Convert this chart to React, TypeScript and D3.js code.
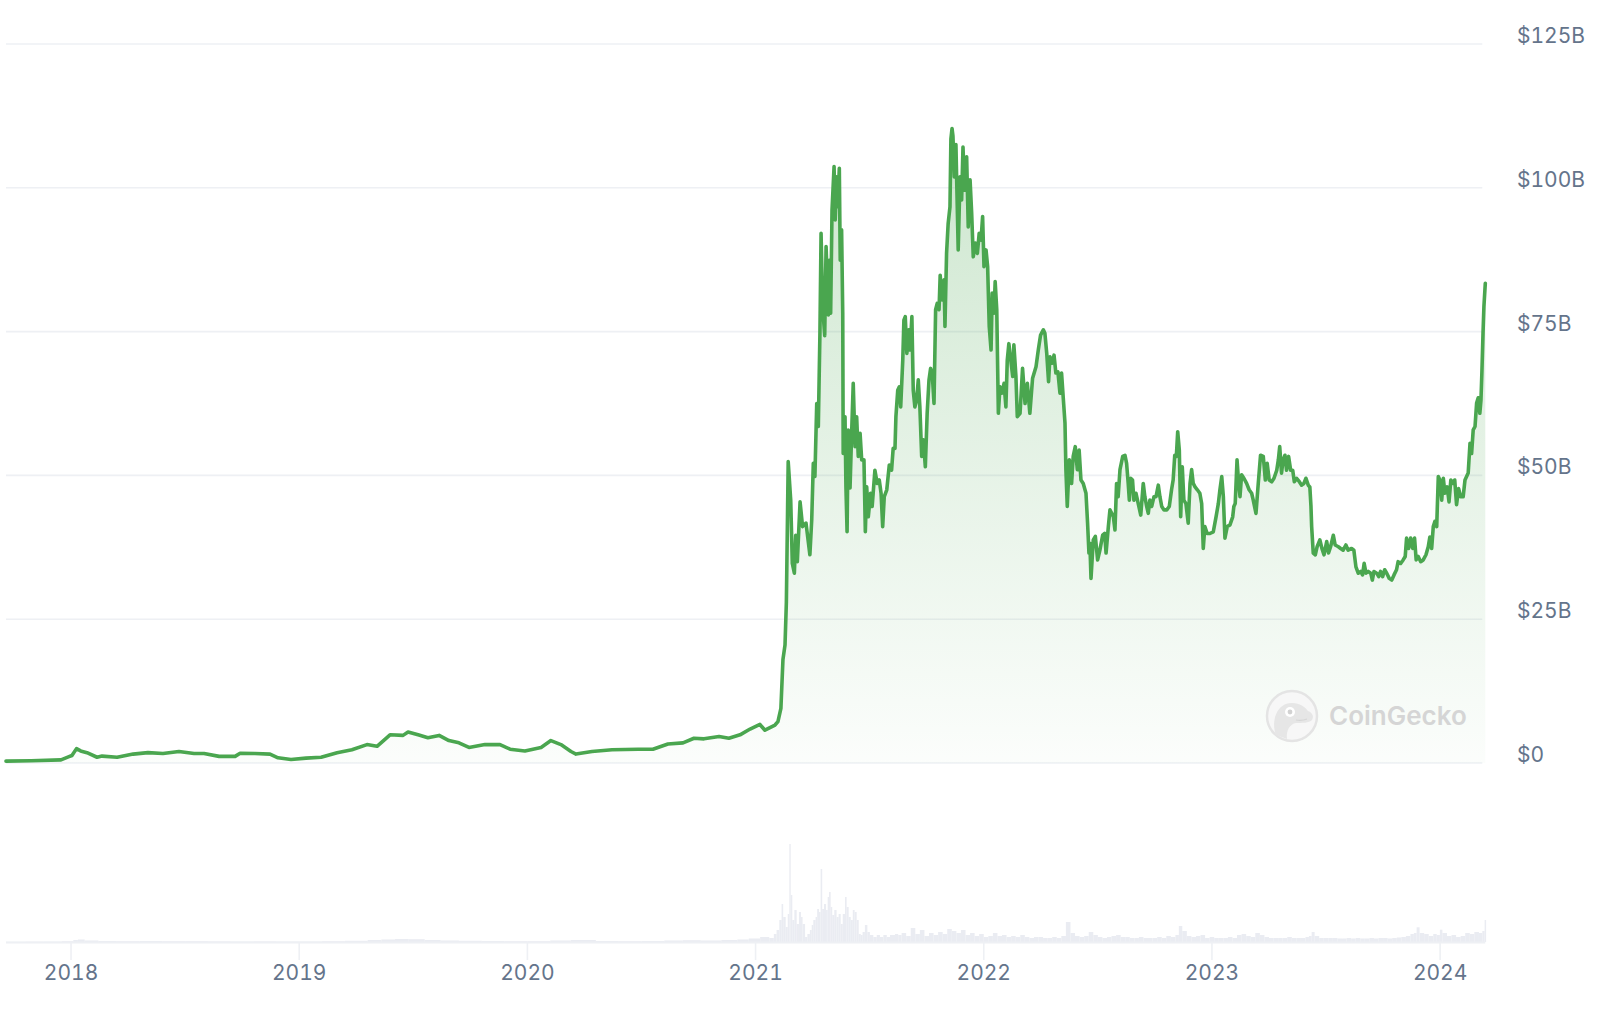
import React from "react";
import * as d3 from "d3";

// Market cap (decimal year, $B)
const priceDates: number[] = [
  2017.715, 2017.825, 2017.956, 2017.991, 2018.004, 2018.024, 2018.042, 2018.07, 2018.114, 2018.136,
  2018.202, 2018.272, 2018.337, 2018.403, 2018.473, 2018.539, 2018.583, 2018.649, 2018.719, 2018.741,
  2018.806, 2018.872, 2018.907, 2018.964, 2019.03, 2019.096, 2019.166, 2019.231, 2019.297, 2019.341,
  2019.398, 2019.455, 2019.477, 2019.521, 2019.564, 2019.613, 2019.656, 2019.7, 2019.744, 2019.814,
  2019.88, 2019.924, 2019.989, 2020.06, 2020.103, 2020.147, 2020.191, 2020.213, 2020.283, 2020.371,
  2020.485, 2020.55, 2020.616, 2020.682, 2020.73, 2020.774, 2020.84, 2020.883, 2020.932, 2020.976,
  2021.019, 2021.041, 2021.085, 2021.098, 2021.111, 2021.12, 2021.129, 2021.135,
  2021.143, 2021.154, 2021.161, 2021.17, 2021.176, 2021.183, 2021.195, 2021.206, 2021.221, 2021.238,
  2021.246, 2021.253, 2021.26, 2021.268, 2021.275, 2021.282, 2021.287, 2021.294, 2021.303, 2021.309,
  2021.319, 2021.323, 2021.329, 2021.335, 2021.344, 2021.349, 2021.355, 2021.36, 2021.367, 2021.371,
  2021.377, 2021.382, 2021.384, 2021.392, 2021.396, 2021.401, 2021.406, 2021.414, 2021.421, 2021.428,
  2021.436, 2021.443, 2021.45, 2021.458, 2021.465, 2021.475, 2021.481, 2021.487, 2021.494, 2021.504,
  2021.511, 2021.523, 2021.533, 2021.542, 2021.55, 2021.557, 2021.564, 2021.575, 2021.586, 2021.596,
  2021.603, 2021.611, 2021.615, 2021.623, 2021.63, 2021.636, 2021.645, 2021.65, 2021.656, 2021.663,
  2021.671, 2021.677, 2021.685, 2021.691, 2021.698, 2021.706, 2021.713, 2021.72, 2021.728, 2021.735,
  2021.744, 2021.752, 2021.76, 2021.767, 2021.774, 2021.782, 2021.789, 2021.796, 2021.804, 2021.809,
  2021.817, 2021.826, 2021.83, 2021.837, 2021.844, 2021.852, 2021.856, 2021.861, 2021.865, 2021.871,
  2021.878, 2021.888, 2021.896, 2021.903, 2021.909, 2021.916, 2021.925, 2021.932, 2021.94, 2021.947,
  2021.954, 2021.963, 2021.972, 2021.98, 2021.988, 2021.995, 2022.001, 2022.01, 2022.017, 2022.024,
  2022.032, 2022.037, 2022.045, 2022.05, 2022.057, 2022.064, 2022.071, 2022.08, 2022.089, 2022.097,
  2022.103, 2022.11, 2022.127, 2022.132, 2022.141, 2022.147, 2022.159, 2022.17, 2022.181, 2022.191,
  2022.202, 2022.214, 2022.229, 2022.239, 2022.249, 2022.261, 2022.268, 2022.276, 2022.284, 2022.29,
  2022.299, 2022.308, 2022.316, 2022.325, 2022.334, 2022.341, 2022.348, 2022.356, 2022.36, 2022.366,
  2022.375, 2022.385, 2022.392, 2022.401, 2022.41, 2022.418, 2022.426, 2022.436, 2022.448, 2022.455,
  2022.461, 2022.465, 2022.47, 2022.48, 2022.489, 2022.499, 2022.509, 2022.521, 2022.53, 2022.536,
  2022.546, 2022.553, 2022.561, 2022.568, 2022.575, 2022.582, 2022.589, 2022.597, 2022.609, 2022.619,
  2022.626, 2022.633, 2022.638, 2022.644, 2022.652, 2022.658, 2022.667, 2022.677, 2022.688, 2022.699,
  2022.706, 2022.714, 2022.721, 2022.728, 2022.736, 2022.746, 2022.755, 2022.765, 2022.772, 2022.78,
  2022.79, 2022.802, 2022.813, 2022.823, 2022.83, 2022.837, 2022.844, 2022.85, 2022.857, 2022.863,
  2022.87, 2022.877, 2022.886, 2022.896, 2022.904, 2022.911, 2022.918, 2022.926, 2022.936, 2022.947,
  2022.955, 2022.962, 2022.969, 2022.979, 2022.991, 2023.006, 2023.018, 2023.028, 2023.035, 2023.043,
  2023.05, 2023.057, 2023.067, 2023.079, 2023.091, 2023.096, 2023.102, 2023.11, 2023.115, 2023.123,
  2023.13, 2023.14, 2023.152, 2023.163, 2023.174, 2023.181, 2023.193, 2023.203, 2023.213, 2023.225,
  2023.234, 2023.242, 2023.251, 2023.262, 2023.272, 2023.284, 2023.291, 2023.297, 2023.305, 2023.312,
  2023.32, 2023.327, 2023.336, 2023.345, 2023.354, 2023.361, 2023.371, 2023.383, 2023.393, 2023.403,
  2023.412, 2023.422, 2023.429, 2023.434, 2023.437, 2023.444, 2023.453, 2023.461, 2023.473, 2023.482,
  2023.491, 2023.503, 2023.511, 2023.52, 2023.532, 2023.54, 2023.554, 2023.564, 2023.575, 2023.587,
  2023.597, 2023.612, 2023.622, 2023.631, 2023.641, 2023.652, 2023.66, 2023.667, 2023.675, 2023.685,
  2023.696, 2023.703, 2023.71, 2023.722, 2023.731, 2023.739, 2023.748, 2023.757, 2023.766, 2023.777,
  2023.788, 2023.798, 2023.809, 2023.816, 2023.827, 2023.838, 2023.847, 2023.853, 2023.862, 2023.871,
  2023.88, 2023.888, 2023.895, 2023.904, 2023.915, 2023.926, 2023.938, 2023.948, 2023.955, 2023.963,
  2023.97, 2023.977, 2023.985, 2023.992, 2023.999, 2024.007, 2024.014, 2024.021, 2024.031, 2024.039,
  2024.047, 2024.058, 2024.064, 2024.072, 2024.081, 2024.09, 2024.101, 2024.109, 2024.116, 2024.123,
  2024.131, 2024.138, 2024.145, 2024.153, 2024.16, 2024.167, 2024.174, 2024.179, 2024.183, 2024.188,
  2024.192, 2024.198,
];

const priceValues: number[] = [
  0.33, 0.4, 0.55, 1.1, 1.3, 2.5, 2.1, 1.8, 1.0, 1.2,
  1.0, 1.55, 1.8, 1.65, 2.0, 1.65, 1.65, 1.15, 1.15, 1.7,
  1.65, 1.55, 0.9, 0.6, 0.85, 1.0, 1.8, 2.3, 3.2, 2.9,
  4.9, 4.8, 5.4, 4.9, 4.4, 4.8, 3.9, 3.5, 2.7, 3.2,
  3.2, 2.4, 2.1, 2.7, 3.9, 3.2, 2.0, 1.55, 2.0, 2.3,
  2.4, 2.4, 3.3, 3.5, 4.3, 4.2, 4.6, 4.3, 4.9, 5.9,
  6.7, 5.7, 6.6, 7.2, 9.5, 18, 20.5, 28,
  52.4, 45.7, 34.7, 33.0, 39.6, 35.0, 45.4, 41.1, 41.7, 36.2,
  42.2, 52.1, 49.8, 62.5, 58.5, 74.7, 92.1, 79.3, 74.3, 89.8,
  77.9, 87.4, 78.2, 96.1, 103.7, 94.4, 101.9, 96.7, 103.4, 87.4,
  92.7, 78.2, 53.8, 60.2, 48.0, 40.2, 57.9, 47.8, 57.3, 66.0,
  55.0, 60.2, 53.3, 57.3, 52.7, 52.7, 40.2, 48.0, 42.8, 46.9,
  44.6, 50.9, 48.6, 49.2, 46.9, 41.1, 46.3, 47.5, 51.8, 50.9,
  54.7, 54.7, 60.2, 64.8, 65.4, 61.9, 70.0, 77.0, 77.6, 71.2,
  75.3, 71.8, 77.6, 64.8, 61.9, 63.1, 66.6, 61.9, 53.3, 56.2,
  51.5, 60.8, 66.6, 68.6, 67.8, 62.5, 78.8, 79.9, 78.8, 84.8,
  80.5, 84.0, 75.9, 88.6, 93.8, 96.7, 108.5, 110.3, 109.0, 101.9,
  107.5, 89.2, 101.9, 97.9, 107.1, 99.6, 105.4, 93.2, 101.4, 95.6,
  88.0, 90.4, 88.6, 92.1, 90.9, 95.0, 86.3, 89.2, 86.3, 75.9,
  71.8, 81.7, 78.2, 83.7, 78.8, 60.8, 65.4, 64.3, 66.0, 61.9,
  70.0, 72.9, 67.2, 72.7, 67.2, 60.2, 60.8, 68.6, 62.5, 66.0,
  60.8, 66.9, 68.9, 71.8, 74.4, 75.3, 74.7, 71.2, 66.3, 70.6,
  69.5, 70.9, 67.8, 68.0, 64.3, 67.8, 63.7, 59.1, 51.0, 44.6,
  52.7, 48.6, 53.3, 55.0, 51.0, 54.4, 49.2, 48.6, 46.9, 41.7,
  36.5, 38.2, 32.1, 38.8, 39.4, 35.3, 37.0, 39.6, 39.9, 36.5,
  41.1, 44.0, 43.4, 42.8, 40.5, 48.6, 46.3, 51.0, 53.3, 53.5,
  52.1, 48.6, 45.7, 49.5, 49.2, 45.7, 46.9, 45.1, 43.1, 48.6,
  46.3, 44.6, 43.4, 45.7, 44.6, 46.3, 46.3, 48.3, 46.3, 44.6,
  44.0, 44.0, 44.6, 47.5, 49.2, 53.5, 53.3, 57.6, 54.4, 42.8,
  51.5, 45.7, 45.1, 41.7, 48.6, 51.0, 48.6, 48.0, 47.5, 46.9,
  45.1, 37.3, 41.1, 39.9, 39.9, 40.2, 42.8, 45.1, 47.5, 49.8,
  46.3, 39.1, 41.1, 41.4, 42.8, 44.6, 45.1, 52.7, 49.8, 46.3,
  50.1, 49.5, 48.6, 47.5, 46.9, 45.7, 43.4, 48.6, 53.5, 53.3,
  49.2, 52.1, 49.2, 48.9, 49.5, 50.9, 52.7, 55.0, 50.4, 52.7,
  53.5, 50.9, 53.3, 50.9, 50.9, 48.9, 49.5, 48.9, 48.3, 48.6,
  49.5, 48.3, 48.0, 44.6, 41.1, 36.5, 36.2, 37.6, 38.8, 37.3,
  36.2, 38.5, 36.5, 37.6, 39.6, 37.9, 37.6, 37.3, 37.0, 37.9,
  37.0, 37.3, 37.0, 34.1, 33.0, 33.3, 32.7, 34.7, 33.0, 33.3,
  33.0, 31.8, 33.3, 33.0, 32.4, 33.3, 32.4, 33.6, 33.0, 32.1,
  31.8, 32.7, 33.6, 35.0, 34.7, 35.3, 35.9, 39.1, 37.3, 39.1,
  37.3, 39.1, 35.3, 35.9, 35.0, 35.3, 36.2, 37.6, 39.3, 37.3,
  41.1, 42.0, 41.1, 49.8, 49.2, 45.7, 49.5, 46.9, 48.0, 45.4,
  49.2, 48.6, 49.2, 44.9, 47.7, 46.3, 46.3, 49.2, 49.8, 50.4,
  55.6, 53.8, 57.9, 58.5, 62.6, 63.5, 60.8, 63.1, 67.8, 74.7,
  79.4, 83.4,
];

// Trading volume (decimal year, $B)
const volumeDates: number[] = [
  2017.715, 2017.8, 2017.88, 2017.96, 2018.01, 2018.03, 2018.06, 2018.12, 2018.2, 2018.3,
  2018.4, 2018.5, 2018.6, 2018.7, 2018.8, 2018.9, 2019.0, 2019.1, 2019.2, 2019.3,
  2019.36, 2019.42, 2019.48, 2019.55, 2019.62, 2019.7, 2019.8, 2019.9, 2020.0, 2020.1,
  2020.19, 2020.3, 2020.4, 2020.5, 2020.6, 2020.68, 2020.76, 2020.85, 2020.92, 2020.97,
  2021.02, 2021.06, 2021.08,
  2021.092, 2021.104, 2021.114, 2021.121, 2021.132, 2021.141, 2021.148, 2021.154, 2021.161, 2021.17,
  2021.18, 2021.19, 2021.199, 2021.206, 2021.217, 2021.227, 2021.238, 2021.246, 2021.253, 2021.263,
  2021.27, 2021.278, 2021.285, 2021.292, 2021.3, 2021.309, 2021.316, 2021.322, 2021.329, 2021.336,
  2021.345, 2021.355, 2021.364, 2021.373, 2021.382, 2021.392, 2021.399, 2021.408, 2021.417, 2021.426,
  2021.434, 2021.443, 2021.452, 2021.461, 2021.469, 2021.479, 2021.49, 2021.501, 2021.516, 2021.531,
  2021.545, 2021.56, 2021.575, 2021.589, 2021.611, 2021.625,
  2021.64, 2021.66, 2021.68, 2021.7, 2021.72, 2021.74, 2021.76, 2021.78, 2021.8, 2021.82,
  2021.84, 2021.86, 2021.88, 2021.9, 2021.92, 2021.94, 2021.96, 2021.98, 2022.0, 2022.02,
  2022.04, 2022.06, 2022.08, 2022.1, 2022.12, 2022.14, 2022.16, 2022.18, 2022.2, 2022.22,
  2022.24, 2022.26, 2022.28, 2022.3, 2022.32, 2022.34, 2022.36, 2022.38, 2022.4, 2022.42,
  2022.44, 2022.46, 2022.48, 2022.5, 2022.52, 2022.54, 2022.56, 2022.58, 2022.6, 2022.62,
  2022.64, 2022.66, 2022.68, 2022.7, 2022.72, 2022.74, 2022.76, 2022.78, 2022.8, 2022.82,
  2022.84, 2022.855, 2022.87, 2022.89, 2022.91, 2022.93, 2022.95, 2022.97, 2022.99, 2023.01,
  2023.03, 2023.05, 2023.07, 2023.09, 2023.11, 2023.13, 2023.15, 2023.17, 2023.19, 2023.21,
  2023.23, 2023.25, 2023.27, 2023.29, 2023.31, 2023.33, 2023.35, 2023.37, 2023.39, 2023.41,
  2023.425, 2023.437, 2023.45, 2023.47, 2023.49, 2023.51, 2023.53, 2023.55, 2023.57, 2023.59,
  2023.61, 2023.63, 2023.65, 2023.67, 2023.69, 2023.71, 2023.73, 2023.75, 2023.77, 2023.79,
  2023.81, 2023.83, 2023.85, 2023.87, 2023.885, 2023.897, 2023.91, 2023.93, 2023.95, 2023.97,
  2023.985, 2023.999, 2024.01, 2024.03, 2024.05, 2024.07, 2024.09, 2024.11, 2024.13, 2024.15,
  2024.17, 2024.185, 2024.195,
];

const volumeValues: number[] = [
  0.02, 0.03, 0.04, 0.08, 0.2, 0.25, 0.15, 0.1, 0.08, 0.1,
  0.08, 0.08, 0.06, 0.05, 0.06, 0.05, 0.05, 0.08, 0.12, 0.2,
  0.25, 0.3, 0.28, 0.2, 0.15, 0.12, 0.1, 0.08, 0.08, 0.15,
  0.2, 0.1, 0.08, 0.1, 0.15, 0.18, 0.15, 0.2, 0.25, 0.35,
  0.5, 0.4, 0.8,
  1.2, 2.2, 3.8, 2.5, 1.5, 2.8, 9.8, 4.7, 2.2, 3.2,
  1.8, 3.0, 2.5, 1.8, 0.5, 0.8, 1.2, 1.7, 2.2, 2.5,
  3.3, 3.0, 7.3, 3.3, 3.8, 3.2, 4.5, 5.0, 3.5, 2.7,
  3.2, 2.5, 2.8, 1.8, 2.8, 4.5, 3.5, 2.5, 2.2, 3.2,
  3.0, 2.2, 0.8, 0.7, 1.0, 1.7, 1.0, 0.7, 0.5, 0.7,
  0.5, 0.7, 0.5, 0.7, 0.8, 0.7,
  0.9, 0.6, 1.4, 0.8, 1.2, 0.6, 0.9, 0.7, 1.0, 0.8,
  1.3, 1.1, 0.9, 1.2, 0.7, 0.9, 0.6, 0.8, 0.5, 0.6,
  0.9, 0.6, 0.7, 0.5, 0.6, 0.5, 0.7, 0.5, 0.4, 0.5,
  0.5, 0.4, 0.4, 0.5, 0.4, 0.6, 2.0, 0.9, 0.6, 0.5,
  0.6, 1.0, 0.7, 0.5, 0.4, 0.5, 0.6, 0.7, 0.5, 0.5,
  0.4, 0.4, 0.5, 0.4, 0.4, 0.4, 0.5, 0.4, 0.6, 0.5,
  0.7, 1.6, 1.1, 0.6, 0.5, 0.6, 0.7, 0.4, 0.5, 0.4,
  0.4, 0.4, 0.5, 0.4, 0.7, 0.8, 0.6, 0.5, 0.9, 0.7,
  0.5, 0.4, 0.4, 0.4, 0.4, 0.5, 0.4, 0.4, 0.4, 0.5,
  0.6, 1.0, 0.6, 0.4, 0.4, 0.4, 0.4, 0.35, 0.35, 0.4,
  0.35, 0.4, 0.35, 0.35, 0.4, 0.35, 0.4, 0.4, 0.35, 0.4,
  0.45, 0.5, 0.6, 0.8, 0.9, 1.47, 0.9, 0.8, 0.6, 0.8,
  0.7, 1.23, 0.9, 0.6, 0.7, 0.5, 0.6, 0.9, 0.8, 1.0,
  0.9, 1.1, 2.2,
];

const yTickValues: number[] = [0, 25, 50, 75, 100, 125];
const yTickLabels: string[] = ["$0", "$25B", "$50B", "$75B", "$100B", "$125B"];
const xTickValues: number[] = [2018, 2019, 2020, 2021, 2022, 2023, 2024];
const xTickLabels: string[] = ["2018", "2019", "2020", "2021", "2022", "2023", "2024"];

const LINE_COLOR = "#4aa64f";
const TEXT_COLOR = "#64748b";
const GRID_COLOR = "#eef0f4";
const VOL_COLOR = "#eaecf2";
const FONT = "Inter, 'Open Sans', Roboto, sans-serif";

export default function App() {
  const W = 1616;
  const H = 1012;
  const x = d3.scaleLinear().domain([2017.715, 2024.198]).range([6, 1485.3]);
  const y = d3.scaleLinear().domain([0, 125]).range([763, 44]);
  const yVol = d3.scaleLinear().domain([0, 10]).range([942, 842]);

  const pts: [number, number][] = priceDates.map((t, i) => [t, priceValues[i]]);
  const linePath = d3
    .line<[number, number]>()
    .x((d) => x(d[0]))
    .y((d) => y(d[1]))(pts) as string;
  const areaPath = d3
    .area<[number, number]>()
    .x((d) => x(d[0]))
    .y0(y(0))
    .y1((d) => y(d[1]))(pts) as string;

  const vols = volumeDates.map((t, i) => {
    const x0 = x(t);
    const x1 = i < volumeDates.length - 1 ? x(volumeDates[i + 1]) : x0 + 1.5;
    return { x0, w: Math.max(1, x1 - x0), v: volumeValues[i] };
  });

  const plotLeft = x.range()[0];
  const plotRight = x.range()[1];

  return (
    <svg
      width={W}
      height={H}
      viewBox={`0 0 ${W} ${H}`}
      style={{ position: "absolute", left: 0, top: 0, background: "#fff" }}
    >
      <defs>
        <linearGradient id="areaGrad" gradientUnits="userSpaceOnUse" x1="0" x2="0" y1={y(112)} y2={y(0)}>
          <stop offset="0" stopColor={LINE_COLOR} stopOpacity={0.28} />
          <stop offset="1" stopColor={LINE_COLOR} stopOpacity={0.02} />
        </linearGradient>
      </defs>
      <rect x={0} y={0} width={W} height={H} fill="#ffffff" />

      {/* gridlines */}
      {yTickValues.map((v) => (
        <line
          key={"g" + v}
          x1={plotLeft}
          x2={plotRight - 3}
          y1={y(v)}
          y2={y(v)}
          stroke={GRID_COLOR}
          strokeWidth={1.6}
        />
      ))}

      {/* volume bars */}
      <g>
        {vols.map((d, i) => (
          <rect
            key={"v" + i}
            x={d.x0}
            y={yVol(d.v)}
            width={d.w}
            height={yVol(0) - yVol(d.v)}
            fill={VOL_COLOR}
          />
        ))}
      </g>

      {/* x axis baseline + ticks */}
      <line x1={plotLeft} x2={plotRight} y1={942.5} y2={942.5} stroke={GRID_COLOR} strokeWidth={2} />
      {xTickValues.map((t) => (
        <line key={"t" + t} x1={x(t)} x2={x(t)} y1={942} y2={960} stroke={GRID_COLOR} strokeWidth={1.6} />
      ))}

      {/* area + line */}
      <path d={areaPath} fill="url(#areaGrad)" />
      <path d={linePath} fill="none" stroke={LINE_COLOR} strokeWidth={3.6} strokeLinejoin="round" strokeLinecap="round" />

      {/* watermark */}
      <g transform="translate(1292,716)">
        <circle r={25} fill="#f7f7f7" stroke="#e4e4e4" strokeWidth={2.5} />
        <path
          d="M -16 19 C -21 6, -16 -13, 0 -13 C 8 -13, 13 -9, 16 -5 C 21 -3, 22 1, 20 4 C 17 7, 10 7, 4 7 C -2 8, -6 14, -5 23 Z"
          fill="#e6e6e6"
        />
        <circle cx={-2} cy={-4} r={5} fill="#ffffff" />
        <circle cx={-2} cy={-4} r={2.4} fill="#d2d2d2" />
        <path d="M 4 4 Q 10 5 15 3" fill="none" stroke="#d6d6d6" strokeWidth={1.2} />
      </g>
      <text
        x={1329}
        y={725}
        fontFamily={FONT}
        fontSize={26}
        fontWeight={600}
        fill="#d5d5d5"
      >
        CoinGecko
      </text>

      {/* y labels */}
      {yTickValues.map((v, i) => (
        <text
          key={"yl" + v}
          x={1517}
          y={y(v) - 1}
          fontFamily={FONT}
          fontSize={21}
          fill={TEXT_COLOR}
          style={{ fontVariantNumeric: "tabular-nums" }}
        >
          {yTickLabels[i]}
        </text>
      ))}

      {/* x labels */}
      {xTickValues.map((t, i) => (
        <text
          key={"xl" + t}
          x={x(t)}
          y={980}
          textAnchor="middle"
          fontFamily={FONT}
          fontSize={21}
          fill={TEXT_COLOR}
          style={{ fontVariantNumeric: "tabular-nums" }}
        >
          {xTickLabels[i]}
        </text>
      ))}
    </svg>
  );
}
